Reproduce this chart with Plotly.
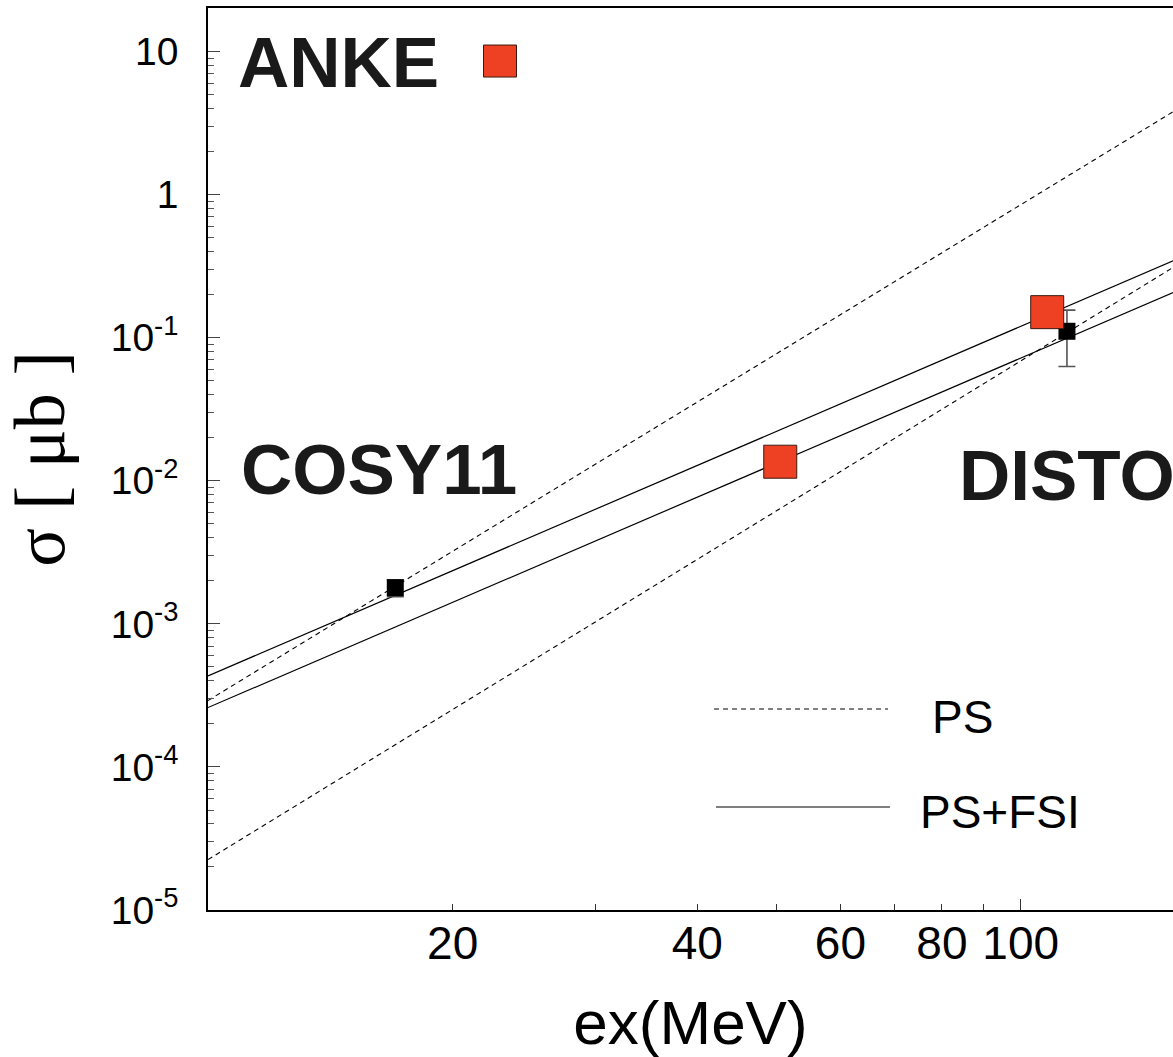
import plotly.graph_objects as go

# ---------------- data ----------------
# PS (phase space) curves, dashed: power laws -> straight in log-log, endpoints
ps_x = [10.0, 154.0]
ps_upper_y = [2.91e-4, 3.80]
ps_lower_y = [2.25e-5, 0.310]

# PS+FSI curves, solid
fsi_x = [10.0, 154.0]
fsi_upper_y = [4.33e-4, 0.345]
fsi_lower_y = [2.60e-4, 0.207]

# ANKE data (red squares)
anke_x = [50.6, 107.8]
anke_y = [0.0136, 0.151]

# COSY11 / DISTO data (black squares) with asymmetric errors
black_x = [17.0, 114.0]
black_y = [0.00179, 0.111]
black_err_plus = [0.00024, 0.045]
black_err_minus = [0.00024, 0.048]

# axis ticks
y_tickvals = [1e-5, 1e-4, 1e-3, 1e-2, 1e-1, 1, 10]
y_ticktext = ["10<sup>-5</sup>", "10<sup>-4</sup>", "10<sup>-3</sup>",
              "10<sup>-2</sup>", "10<sup>-1</sup>", "1", "10"]
x_tickvals = [20, 40, 60, 80, 100]
x_ticktext = ["20", "40", "60", "80", "100"]
x_minorvals = [30, 50, 70, 90]
x_majorvals = [100]

RED = "#ee4123"
FONT = "Liberation Sans, Arial, Helvetica, sans-serif"

fig = go.Figure()

dash_style = "5px,4px"
fig.add_trace(go.Scatter(x=ps_x, y=ps_upper_y, mode="lines",
                         line=dict(color="black", width=1.1, dash=dash_style),
                         showlegend=False, hoverinfo="skip"))
fig.add_trace(go.Scatter(x=ps_x, y=ps_lower_y, mode="lines",
                         line=dict(color="black", width=1.1, dash=dash_style),
                         showlegend=False, hoverinfo="skip"))
fig.add_trace(go.Scatter(x=fsi_x, y=fsi_upper_y, mode="lines",
                         line=dict(color="black", width=1.2),
                         showlegend=False, hoverinfo="skip"))
fig.add_trace(go.Scatter(x=fsi_x, y=fsi_lower_y, mode="lines",
                         line=dict(color="black", width=1.2),
                         showlegend=False, hoverinfo="skip"))

fig.add_trace(go.Scatter(
    x=black_x, y=black_y, mode="markers",
    marker=dict(symbol="square", size=17, color="black"),
    error_y=dict(type="data", symmetric=False, array=black_err_plus,
                 arrayminus=black_err_minus, color="#555555",
                 thickness=1.6, width=8.5),
    showlegend=False))

fig.add_trace(go.Scatter(
    x=anke_x, y=anke_y, mode="markers",
    marker=dict(symbol="square", size=33, color=RED,
                line=dict(color="#3a1a10", width=1)),
    showlegend=False))

# invisible helper trace for the overlay axis (long major tick at 100)
fig.add_trace(go.Scatter(x=x_majorvals, y=[None], xaxis="x2", mode="markers",
                         showlegend=False, hoverinfo="skip"))

# minor ticks of y axis (2..9 per decade)
y_minor = [m * 10 ** e for e in range(-5, 2) for m in range(2, 10)]

fig.update_layout(
    width=1173, height=1057,
    margin=dict(l=208, r=0, t=8, b=147),
    paper_bgcolor="white", plot_bgcolor="white",
    font=dict(family=FONT, color="black"),
    xaxis=dict(
        type="log", range=[1.0, 2.1874],
        showline=True, linecolor="black", linewidth=1.6, mirror=True,
        showgrid=False, zeroline=False,
        ticks="inside", ticklen=6, tickwidth=1, tickcolor="#333333",
        tickvals=x_tickvals, ticktext=x_ticktext,
        tickfont=dict(size=46, family=FONT),
        ticklabelstandoff=-8,
        minor=dict(tickmode="array", tickvals=x_minorvals, ticks="inside",
                   ticklen=6, tickwidth=1, tickcolor="#333333", showgrid=False),
        title=dict(text="ex(MeV)", font=dict(size=62, family=FONT), standoff=38),
    ),
    xaxis2=dict(
        type="log", range=[1.0, 2.1874], overlaying="x", side="bottom",
        showline=False, showgrid=False, zeroline=False,
        ticks="inside", ticklen=11, tickwidth=1, tickcolor="#333333",
        tickvals=x_majorvals, showticklabels=False,
    ),
    yaxis=dict(
        type="log", range=[-5, 1.305],
        showline=True, linecolor="black", linewidth=1.6, mirror=False,
        showgrid=False, zeroline=False,
        ticks="inside", ticklen=12, tickwidth=1.2, tickcolor="#444444",
        tickvals=y_tickvals, ticktext=y_ticktext,
        tickfont=dict(size=39, family=FONT),
        ticklabelstandoff=20,
        minor=dict(tickmode="array", tickvals=y_minor, ticks="inside",
                   ticklen=6, tickwidth=1, tickcolor="#555555", showgrid=False),
        title=dict(text="σ [ μb ]",
                   font=dict(size=72, family="Liberation Serif, DejaVu Serif, serif"),
                   standoff=24),
    ),
)

# text labels
fig.add_annotation(text="<b>ANKE</b>", xref="paper", yref="paper",
                   x=0.029, y=0.940, xanchor="left", yanchor="middle",
                   showarrow=False, font=dict(size=71, family=FONT, color="#1a1a1a"))
fig.add_annotation(text="<b>COSY11</b>", xref="paper", yref="paper",
                   x=0.032, y=0.488, xanchor="left", yanchor="middle",
                   showarrow=False, font=dict(size=71, family=FONT, color="#1a1a1a"))
fig.add_annotation(text="<b>DISTO</b>", xref="paper", yref="paper",
                   x=0.776, y=0.482, xanchor="left", yanchor="middle",
                   showarrow=False, font=dict(size=71, family=FONT, color="#1a1a1a"))

# ANKE key marker
fig.add_shape(type="rect", xref="paper", yref="paper",
              xsizemode="pixel", ysizemode="pixel",
              xanchor=0.3026, yanchor=0.9412,
              x0=-16.5, x1=16.5, y0=-16, y1=16,
              fillcolor=RED, line=dict(color="#3a1a10", width=1))

# legend
fig.add_shape(type="line", xref="paper", yref="paper",
              x0=0.5244, x1=0.7047, y0=0.2228, y1=0.2228,
              line=dict(color="black", width=1.1, dash="5px,4px"))
fig.add_shape(type="line", xref="paper", yref="paper",
              x0=0.5264, x1=0.7067, y0=0.1142, y1=0.1142,
              line=dict(color="black", width=1.2))
fig.add_annotation(text="PS", xref="paper", yref="paper",
                   x=0.7482, y=0.2135, xanchor="left", yanchor="middle",
                   showarrow=False, font=dict(size=46, family=FONT))
fig.add_annotation(text="PS+FSI", xref="paper", yref="paper",
                   x=0.7358, y=0.1086, xanchor="left", yanchor="middle",
                   showarrow=False, font=dict(size=46, family=FONT))

fig.write_html("out.html")
